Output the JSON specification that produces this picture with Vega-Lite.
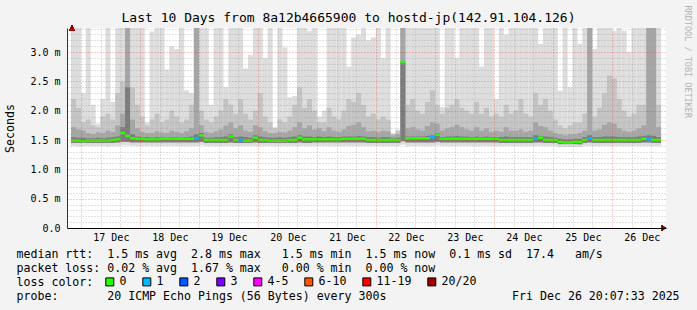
{
"$schema": "https://vega.github.io/schema/vega-lite/v6.json",
"width": 599, "height": 200,
"autosize": {"type": "none"},
"padding": {"left": 67, "top": 28, "right": 31, "bottom": 82},
"background": "#f3f3f3",
"config": {"view": {"stroke": null, "fill": "#ffffff"}, "font": "DejaVu Sans Mono"},
"title": {"text": "Last 10 Days from 8a12b4665900 to hostd-jp(142.91.104.126)", "fontSize": 13, "fontWeight": "normal", "color": "#000000", "anchor": "middle", "frame": "group", "dx": -18, "offset": -20},
"data": {"values": [
{"t":"2025-12-16T21:00","med":1.49,"loss":"0","mn":1.4,"lo":1.45,"dk":1.55,"hi":1.72,"up":2.2,"mx":3.5},
{"t":"2025-12-16T23:00","med":1.49,"loss":"0","mn":1.39,"lo":1.45,"dk":1.54,"hi":1.68,"up":2.05,"mx":3.5},
{"t":"2025-12-17T01:00","med":1.48,"loss":"0","mn":1.4,"lo":1.45,"dk":1.54,"hi":1.66,"up":1.8,"mx":2.3},
{"t":"2025-12-17T03:00","med":1.49,"loss":"0","mn":1.4,"lo":1.45,"dk":1.53,"hi":1.62,"up":1.85,"mx":3.5},
{"t":"2025-12-17T05:00","med":1.49,"loss":"0","mn":1.4,"lo":1.45,"dk":1.53,"hi":1.6,"up":1.75,"mx":2.1},
{"t":"2025-12-17T07:00","med":1.49,"loss":"0","mn":1.4,"lo":1.45,"dk":1.54,"hi":1.63,"up":1.72,"mx":1.78},
{"t":"2025-12-17T09:00","med":1.49,"loss":"0","mn":1.4,"lo":1.45,"dk":1.53,"hi":1.62,"up":1.9,"mx":2.2},
{"t":"2025-12-17T11:00","med":1.49,"loss":"0","mn":1.39,"lo":1.45,"dk":1.54,"hi":1.66,"up":1.95,"mx":3.5},
{"t":"2025-12-17T13:00","med":1.5,"loss":"0","mn":1.4,"lo":1.45,"dk":1.55,"hi":1.64,"up":1.85,"mx":2.15},
{"t":"2025-12-17T15:00","med":1.51,"loss":"0","mn":1.4,"lo":1.46,"dk":1.56,"hi":1.75,"up":2.3,"mx":3.5},
{"t":"2025-12-17T17:00","med":1.62,"loss":"0","mn":1.41,"lo":1.47,"dk":1.72,"hi":1.95,"up":2.5,"mx":3.5},
{"t":"2025-12-17T19:00","med":1.57,"loss":"0","mn":1.41,"lo":1.47,"dk":2.4,"hi":3.5,"up":3.5,"mx":3.5},
{"t":"2025-12-17T21:00","med":1.53,"loss":"0","mn":1.4,"lo":1.46,"dk":1.6,"hi":1.85,"up":2.4,"mx":3.5},
{"t":"2025-12-17T23:00","med":1.52,"loss":"0","mn":1.4,"lo":1.46,"dk":1.56,"hi":1.7,"up":2.1,"mx":3.5},
{"t":"2025-12-18T01:00","med":1.52,"loss":"0","mn":1.4,"lo":1.46,"dk":1.55,"hi":1.64,"up":1.9,"mx":3.5},
{"t":"2025-12-18T03:00","med":1.51,"loss":"0","mn":1.4,"lo":1.46,"dk":1.55,"hi":1.62,"up":1.75,"mx":1.8},
{"t":"2025-12-18T05:00","med":1.51,"loss":"0","mn":1.4,"lo":1.46,"dk":1.54,"hi":1.62,"up":1.85,"mx":3.35},
{"t":"2025-12-18T07:00","med":1.51,"loss":"0","mn":1.4,"lo":1.46,"dk":1.55,"hi":1.65,"up":1.95,"mx":3.5},
{"t":"2025-12-18T09:00","med":1.52,"loss":"0","mn":1.4,"lo":1.46,"dk":1.55,"hi":1.63,"up":1.8,"mx":3.5},
{"t":"2025-12-18T11:00","med":1.52,"loss":"0","mn":1.4,"lo":1.46,"dk":1.54,"hi":1.62,"up":1.85,"mx":2.7},
{"t":"2025-12-18T13:00","med":1.52,"loss":"0","mn":1.4,"lo":1.46,"dk":1.55,"hi":1.66,"up":2.0,"mx":3.1},
{"t":"2025-12-18T15:00","med":1.52,"loss":"0","mn":1.4,"lo":1.46,"dk":1.55,"hi":1.64,"up":1.9,"mx":3.05},
{"t":"2025-12-18T17:00","med":1.52,"loss":"0","mn":1.4,"lo":1.46,"dk":1.54,"hi":1.62,"up":1.8,"mx":3.5},
{"t":"2025-12-18T19:00","med":1.52,"loss":"0","mn":1.4,"lo":1.46,"dk":1.55,"hi":1.65,"up":1.85,"mx":2.35},
{"t":"2025-12-18T21:00","med":1.52,"loss":"0","mn":1.4,"lo":1.46,"dk":1.56,"hi":1.7,"up":2.1,"mx":2.3},
{"t":"2025-12-18T23:00","med":1.53,"loss":"1","mn":1.4,"lo":1.46,"dk":1.6,"hi":3.5,"up":3.5,"mx":3.5},
{"t":"2025-12-19T01:00","med":1.58,"loss":"0","mn":1.41,"lo":1.47,"dk":1.62,"hi":1.75,"up":2.0,"mx":3.5},
{"t":"2025-12-19T03:00","med":1.5,"loss":"0","mn":1.4,"lo":1.45,"dk":1.54,"hi":1.64,"up":1.85,"mx":3.5},
{"t":"2025-12-19T05:00","med":1.5,"loss":"0","mn":1.4,"lo":1.45,"dk":1.54,"hi":1.62,"up":1.8,"mx":2.1},
{"t":"2025-12-19T07:00","med":1.5,"loss":"0","mn":1.4,"lo":1.45,"dk":1.55,"hi":1.65,"up":1.9,"mx":3.5},
{"t":"2025-12-19T09:00","med":1.5,"loss":"0","mn":1.4,"lo":1.45,"dk":1.55,"hi":1.68,"up":2.0,"mx":3.5},
{"t":"2025-12-19T11:00","med":1.5,"loss":"0","mn":1.4,"lo":1.45,"dk":1.56,"hi":1.75,"up":2.2,"mx":2.4},
{"t":"2025-12-19T13:00","med":1.56,"loss":"0","mn":1.4,"lo":1.46,"dk":1.6,"hi":1.8,"up":2.1,"mx":3.5},
{"t":"2025-12-19T15:00","med":1.5,"loss":"0","mn":1.4,"lo":1.45,"dk":1.55,"hi":1.7,"up":1.95,"mx":3.5},
{"t":"2025-12-19T17:00","med":1.5,"loss":"1","mn":1.4,"lo":1.45,"dk":1.56,"hi":1.75,"up":2.2,"mx":3.5},
{"t":"2025-12-19T19:00","med":1.49,"loss":"0","mn":1.4,"lo":1.45,"dk":1.55,"hi":1.66,"up":1.95,"mx":2.72},
{"t":"2025-12-19T21:00","med":1.49,"loss":"0","mn":1.4,"lo":1.45,"dk":1.54,"hi":1.64,"up":1.85,"mx":2.95},
{"t":"2025-12-19T23:00","med":1.54,"loss":"0","mn":1.4,"lo":1.46,"dk":1.58,"hi":1.75,"up":2.0,"mx":3.5},
{"t":"2025-12-20T01:00","med":1.5,"loss":"0","mn":1.4,"lo":1.45,"dk":1.56,"hi":1.72,"up":2.3,"mx":3.5},
{"t":"2025-12-20T03:00","med":1.5,"loss":"0","mn":1.4,"lo":1.45,"dk":1.55,"hi":1.65,"up":1.9,"mx":2.9},
{"t":"2025-12-20T05:00","med":1.49,"loss":"0","mn":1.4,"lo":1.45,"dk":1.54,"hi":1.62,"up":1.8,"mx":3.5},
{"t":"2025-12-20T07:00","med":1.49,"loss":"0","mn":1.4,"lo":1.45,"dk":1.54,"hi":1.62,"up":1.7,"mx":1.72},
{"t":"2025-12-20T09:00","med":1.49,"loss":"0","mn":1.4,"lo":1.45,"dk":1.55,"hi":1.64,"up":1.85,"mx":3.5},
{"t":"2025-12-20T11:00","med":1.49,"loss":"0","mn":1.4,"lo":1.45,"dk":1.54,"hi":1.63,"up":1.8,"mx":3.08},
{"t":"2025-12-20T13:00","med":1.5,"loss":"0","mn":1.4,"lo":1.45,"dk":1.55,"hi":1.66,"up":1.9,"mx":2.23},
{"t":"2025-12-20T15:00","med":1.5,"loss":"0","mn":1.4,"lo":1.45,"dk":1.56,"hi":1.72,"up":2.1,"mx":2.25},
{"t":"2025-12-20T17:00","med":1.54,"loss":"0","mn":1.4,"lo":1.46,"dk":1.58,"hi":1.8,"up":2.4,"mx":3.5},
{"t":"2025-12-20T19:00","med":1.51,"loss":"0","mn":1.4,"lo":1.45,"dk":1.56,"hi":1.7,"up":2.05,"mx":3.5},
{"t":"2025-12-20T21:00","med":1.51,"loss":"0","mn":1.4,"lo":1.45,"dk":1.56,"hi":1.75,"up":2.2,"mx":3.36},
{"t":"2025-12-20T23:00","med":1.51,"loss":"0","mn":1.4,"lo":1.46,"dk":1.55,"hi":1.68,"up":2.0,"mx":3.5},
{"t":"2025-12-21T01:00","med":1.51,"loss":"0","mn":1.4,"lo":1.46,"dk":1.56,"hi":1.7,"up":1.8,"mx":1.9},
{"t":"2025-12-21T03:00","med":1.51,"loss":"0","mn":1.4,"lo":1.46,"dk":1.55,"hi":1.65,"up":1.8,"mx":2.0},
{"t":"2025-12-21T05:00","med":1.51,"loss":"0","mn":1.4,"lo":1.46,"dk":1.56,"hi":1.72,"up":2.05,"mx":3.5},
{"t":"2025-12-21T07:00","med":1.51,"loss":"0","mn":1.4,"lo":1.46,"dk":1.55,"hi":1.66,"up":1.9,"mx":3.5},
{"t":"2025-12-21T09:00","med":1.51,"loss":"0","mn":1.4,"lo":1.46,"dk":1.55,"hi":1.64,"up":1.85,"mx":3.5},
{"t":"2025-12-21T11:00","med":1.52,"loss":"0","mn":1.4,"lo":1.46,"dk":1.56,"hi":1.68,"up":2.0,"mx":3.5},
{"t":"2025-12-21T13:00","med":1.52,"loss":"0","mn":1.4,"lo":1.46,"dk":1.56,"hi":1.74,"up":2.2,"mx":2.75},
{"t":"2025-12-21T15:00","med":1.52,"loss":"0","mn":1.4,"lo":1.46,"dk":1.56,"hi":1.76,"up":2.15,"mx":3.25},
{"t":"2025-12-21T17:00","med":1.52,"loss":"0","mn":1.4,"lo":1.46,"dk":1.57,"hi":1.8,"up":2.3,"mx":3.3},
{"t":"2025-12-21T19:00","med":1.52,"loss":"0","mn":1.4,"lo":1.46,"dk":1.56,"hi":1.72,"up":2.1,"mx":3.5},
{"t":"2025-12-21T21:00","med":1.5,"loss":"0","mn":1.4,"lo":1.45,"dk":1.55,"hi":1.65,"up":1.9,"mx":3.2},
{"t":"2025-12-21T23:00","med":1.5,"loss":"0","mn":1.4,"lo":1.45,"dk":1.55,"hi":1.66,"up":1.95,"mx":3.25},
{"t":"2025-12-22T01:00","med":1.5,"loss":"0","mn":1.4,"lo":1.45,"dk":1.54,"hi":1.64,"up":1.85,"mx":3.5},
{"t":"2025-12-22T03:00","med":1.5,"loss":"0","mn":1.4,"lo":1.45,"dk":1.55,"hi":1.66,"up":1.9,"mx":2.9},
{"t":"2025-12-22T05:00","med":1.5,"loss":"0","mn":1.4,"lo":1.45,"dk":1.55,"hi":1.65,"up":1.85,"mx":3.5},
{"t":"2025-12-22T07:00","med":1.5,"loss":"0","mn":1.4,"lo":1.45,"dk":1.53,"hi":1.58,"up":1.6,"mx":1.62},
{"t":"2025-12-22T09:00","med":1.5,"loss":"0","mn":1.4,"lo":1.45,"dk":1.54,"hi":1.6,"up":1.65,"mx":1.68},
{"t":"2025-12-22T11:00","med":2.83,"loss":"0","mn":1.42,"lo":1.48,"dk":2.83,"hi":3.5,"up":3.5,"mx":3.5},
{"t":"2025-12-22T13:00","med":1.53,"loss":"0","mn":1.4,"lo":1.46,"dk":1.56,"hi":1.7,"up":2.1,"mx":3.5},
{"t":"2025-12-22T15:00","med":1.53,"loss":"0","mn":1.4,"lo":1.46,"dk":1.56,"hi":1.72,"up":2.2,"mx":3.5},
{"t":"2025-12-22T17:00","med":1.53,"loss":"0","mn":1.4,"lo":1.46,"dk":1.56,"hi":1.68,"up":2.0,"mx":3.5},
{"t":"2025-12-22T19:00","med":1.53,"loss":"0","mn":1.4,"lo":1.46,"dk":1.56,"hi":1.66,"up":1.95,"mx":3.5},
{"t":"2025-12-22T21:00","med":1.53,"loss":"0","mn":1.4,"lo":1.46,"dk":1.57,"hi":1.74,"up":2.15,"mx":3.5},
{"t":"2025-12-22T23:00","med":1.55,"loss":"1","mn":1.4,"lo":1.46,"dk":1.58,"hi":1.8,"up":2.35,"mx":3.5},
{"t":"2025-12-23T01:00","med":1.59,"loss":"0","mn":1.41,"lo":1.47,"dk":1.62,"hi":1.78,"up":2.1,"mx":3.5},
{"t":"2025-12-23T03:00","med":1.52,"loss":"0","mn":1.4,"lo":1.46,"dk":1.55,"hi":1.66,"up":1.95,"mx":2.06},
{"t":"2025-12-23T05:00","med":1.52,"loss":"0","mn":1.4,"lo":1.46,"dk":1.56,"hi":1.7,"up":2.05,"mx":3.5},
{"t":"2025-12-23T07:00","med":1.52,"loss":"0","mn":1.4,"lo":1.46,"dk":1.56,"hi":1.72,"up":2.1,"mx":3.5},
{"t":"2025-12-23T09:00","med":1.52,"loss":"0","mn":1.4,"lo":1.46,"dk":1.57,"hi":1.76,"up":2.2,"mx":2.9},
{"t":"2025-12-23T11:00","med":1.52,"loss":"0","mn":1.4,"lo":1.46,"dk":1.56,"hi":1.72,"up":2.05,"mx":3.5},
{"t":"2025-12-23T13:00","med":1.52,"loss":"0","mn":1.4,"lo":1.46,"dk":1.56,"hi":1.68,"up":2.0,"mx":3.5},
{"t":"2025-12-23T15:00","med":1.52,"loss":"0","mn":1.4,"lo":1.46,"dk":1.55,"hi":1.66,"up":1.95,"mx":3.5},
{"t":"2025-12-23T17:00","med":1.52,"loss":"0","mn":1.4,"lo":1.46,"dk":1.56,"hi":1.72,"up":2.15,"mx":3.5},
{"t":"2025-12-23T19:00","med":1.52,"loss":"0","mn":1.4,"lo":1.46,"dk":1.55,"hi":1.66,"up":1.95,"mx":2.75},
{"t":"2025-12-23T21:00","med":1.52,"loss":"0","mn":1.4,"lo":1.46,"dk":1.56,"hi":1.7,"up":2.05,"mx":3.5},
{"t":"2025-12-23T23:00","med":1.52,"loss":"0","mn":1.4,"lo":1.46,"dk":1.55,"hi":1.64,"up":1.9,"mx":3.5},
{"t":"2025-12-24T01:00","med":1.52,"loss":"0","mn":1.4,"lo":1.46,"dk":1.55,"hi":1.66,"up":1.95,"mx":2.2},
{"t":"2025-12-24T03:00","med":1.5,"loss":"0","mn":1.4,"lo":1.45,"dk":1.55,"hi":1.64,"up":1.9,"mx":3.5},
{"t":"2025-12-24T05:00","med":1.5,"loss":"0","mn":1.4,"lo":1.45,"dk":1.56,"hi":1.72,"up":2.1,"mx":3.3},
{"t":"2025-12-24T07:00","med":1.5,"loss":"0","mn":1.4,"lo":1.45,"dk":1.55,"hi":1.66,"up":1.95,"mx":3.5},
{"t":"2025-12-24T09:00","med":1.5,"loss":"0","mn":1.4,"lo":1.45,"dk":1.55,"hi":1.66,"up":2.0,"mx":3.5},
{"t":"2025-12-24T11:00","med":1.5,"loss":"0","mn":1.4,"lo":1.45,"dk":1.55,"hi":1.68,"up":2.2,"mx":3.5},
{"t":"2025-12-24T13:00","med":1.5,"loss":"0","mn":1.4,"lo":1.45,"dk":1.55,"hi":1.64,"up":1.95,"mx":3.5},
{"t":"2025-12-24T15:00","med":1.5,"loss":"0","mn":1.4,"lo":1.45,"dk":1.55,"hi":1.66,"up":1.9,"mx":3.5},
{"t":"2025-12-24T17:00","med":1.52,"loss":"1","mn":1.4,"lo":1.46,"dk":1.58,"hi":1.8,"up":2.3,"mx":3.5},
{"t":"2025-12-24T19:00","med":1.54,"loss":"0","mn":1.4,"lo":1.46,"dk":1.57,"hi":1.74,"up":2.1,"mx":3.14},
{"t":"2025-12-24T21:00","med":1.5,"loss":"0","mn":1.4,"lo":1.45,"dk":1.56,"hi":1.72,"up":2.2,"mx":3.5},
{"t":"2025-12-24T23:00","med":1.5,"loss":"0","mn":1.4,"lo":1.45,"dk":1.55,"hi":1.66,"up":2.0,"mx":3.5},
{"t":"2025-12-25T01:00","med":1.5,"loss":"0","mn":1.4,"lo":1.45,"dk":1.54,"hi":1.62,"up":1.85,"mx":3.5},
{"t":"2025-12-25T03:00","med":1.47,"loss":"0","mn":1.38,"lo":1.43,"dk":1.52,"hi":1.6,"up":1.75,"mx":2.34},
{"t":"2025-12-25T05:00","med":1.46,"loss":"0","mn":1.38,"lo":1.43,"dk":1.51,"hi":1.58,"up":1.7,"mx":3.5},
{"t":"2025-12-25T07:00","med":1.46,"loss":"0","mn":1.38,"lo":1.43,"dk":1.51,"hi":1.6,"up":1.75,"mx":2.4},
{"t":"2025-12-25T09:00","med":1.47,"loss":"0","mn":1.38,"lo":1.43,"dk":1.52,"hi":1.6,"up":1.8,"mx":3.5},
{"t":"2025-12-25T11:00","med":1.47,"loss":"0","mn":1.38,"lo":1.43,"dk":1.52,"hi":1.62,"up":1.8,"mx":3.14},
{"t":"2025-12-25T13:00","med":1.5,"loss":"0","mn":1.4,"lo":1.45,"dk":1.55,"hi":1.66,"up":1.95,"mx":3.5},
{"t":"2025-12-25T15:00","med":1.53,"loss":"1","mn":1.4,"lo":1.46,"dk":1.58,"hi":3.5,"up":3.5,"mx":3.5},
{"t":"2025-12-25T17:00","med":1.5,"loss":"0","mn":1.4,"lo":1.45,"dk":1.55,"hi":1.66,"up":1.9,"mx":3.05},
{"t":"2025-12-25T19:00","med":1.5,"loss":"0","mn":1.4,"lo":1.45,"dk":1.55,"hi":1.68,"up":2.05,"mx":3.5},
{"t":"2025-12-25T21:00","med":1.5,"loss":"0","mn":1.4,"lo":1.45,"dk":1.56,"hi":1.76,"up":2.3,"mx":3.5},
{"t":"2025-12-25T23:00","med":1.5,"loss":"0","mn":1.4,"lo":1.45,"dk":1.56,"hi":1.8,"up":2.6,"mx":3.5},
{"t":"2025-12-26T01:00","med":1.5,"loss":"0","mn":1.4,"lo":1.45,"dk":1.56,"hi":1.78,"up":2.55,"mx":3.36},
{"t":"2025-12-26T03:00","med":1.5,"loss":"0","mn":1.4,"lo":1.45,"dk":1.55,"hi":1.7,"up":2.2,"mx":3.5},
{"t":"2025-12-26T05:00","med":1.5,"loss":"0","mn":1.4,"lo":1.45,"dk":1.55,"hi":1.66,"up":2.0,"mx":3.36},
{"t":"2025-12-26T07:00","med":1.5,"loss":"0","mn":1.4,"lo":1.45,"dk":1.55,"hi":1.64,"up":1.9,"mx":3.0},
{"t":"2025-12-26T09:00","med":1.5,"loss":"0","mn":1.4,"lo":1.45,"dk":1.55,"hi":1.66,"up":1.95,"mx":3.5},
{"t":"2025-12-26T11:00","med":1.5,"loss":"0","mn":1.4,"lo":1.45,"dk":1.56,"hi":1.7,"up":2.1,"mx":3.5},
{"t":"2025-12-26T13:00","med":1.52,"loss":"0","mn":1.4,"lo":1.46,"dk":1.57,"hi":1.75,"up":2.1,"mx":3.5},
{"t":"2025-12-26T15:00","med":1.51,"loss":"1","mn":1.4,"lo":1.46,"dk":1.58,"hi":3.5,"up":3.5,"mx":3.5},
{"t":"2025-12-26T17:00","med":1.5,"loss":"0","mn":1.4,"lo":1.45,"dk":1.57,"hi":3.5,"up":3.5,"mx":3.5},
{"t":"2025-12-26T19:00","med":1.5,"loss":"0","mn":1.4,"lo":1.45,"dk":1.55,"hi":1.72,"up":2.1,"mx":3.5}
]},
"encoding": {
"x": {"field": "t", "type": "temporal",
"scale": {"domain": [{"year": 2025, "month": 12, "date": 16, "hours": 20, "minutes": 24}, {"year": 2025, "month": 12, "date": 26, "hours": 20}]},
"axis": {"values": [
{"year":2025,"month":12,"date":17,"hours":0},{"year":2025,"month":12,"date":17,"hours":8},{"year":2025,"month":12,"date":17,"hours":16},
{"year":2025,"month":12,"date":18,"hours":0},{"year":2025,"month":12,"date":18,"hours":8},{"year":2025,"month":12,"date":18,"hours":16},
{"year":2025,"month":12,"date":19,"hours":0},{"year":2025,"month":12,"date":19,"hours":8},{"year":2025,"month":12,"date":19,"hours":16},
{"year":2025,"month":12,"date":20,"hours":0},{"year":2025,"month":12,"date":20,"hours":8},{"year":2025,"month":12,"date":20,"hours":16},
{"year":2025,"month":12,"date":21,"hours":0},{"year":2025,"month":12,"date":21,"hours":8},{"year":2025,"month":12,"date":21,"hours":16},
{"year":2025,"month":12,"date":22,"hours":0},{"year":2025,"month":12,"date":22,"hours":8},{"year":2025,"month":12,"date":22,"hours":16},
{"year":2025,"month":12,"date":23,"hours":0},{"year":2025,"month":12,"date":23,"hours":8},{"year":2025,"month":12,"date":23,"hours":16},
{"year":2025,"month":12,"date":24,"hours":0},{"year":2025,"month":12,"date":24,"hours":8},{"year":2025,"month":12,"date":24,"hours":16},
{"year":2025,"month":12,"date":25,"hours":0},{"year":2025,"month":12,"date":25,"hours":8},{"year":2025,"month":12,"date":25,"hours":16},
{"year":2025,"month":12,"date":26,"hours":0},{"year":2025,"month":12,"date":26,"hours":8},{"year":2025,"month":12,"date":26,"hours":16}],
"labelExpr": "hours(datum.value) == 0 ? timeFormat(datum.value, '%d %b') : ''", "labelOffset": 30, "labelFontSize": 10, "labelColor": "#000000", "labelPadding": 4, "labelFlush": false, "labelOverlap": false, "ticks": false, "domain": true, "domainColor": "#000000", "grid": true,
"gridColor": {"condition": {"test": "hours(datum.value) == 0", "value": "#ff0000"}, "value": "#999999"},
"gridOpacity": {"condition": {"test": "hours(datum.value) == 0", "value": 0.4}, "value": 0.6},
"gridDash": [1, 2], "zindex": 1,
"title": ["median rtt:\u00a0\u00a01.5 ms avg\u00a0\u00a02.8 ms max\u00a0\u00a0\u00a01.5 ms min\u00a0\u00a01.5 ms now\u00a0\u00a00.1 ms sd\u00a0\u00a017.4\u00a0\u00a0\u00a0am/s", "packet loss: 0.02 % avg\u00a0\u00a01.67 % max\u00a0\u00a0\u00a00.00 % min\u00a0\u00a00.00 % now", "loss color:", "probe:\u00a0\u00a0\u00a0\u00a0\u00a0\u00a0\u00a020 ICMP Echo Pings (56 Bytes) every 300s\u00a0\u00a0\u00a0\u00a0\u00a0\u00a0\u00a0\u00a0\u00a0\u00a0\u00a0\u00a0\u00a0\u00a0\u00a0\u00a0\u00a0\u00a0Fri Dec 26 20:07:33 2025"],
"titleFontSize": 11.6, "titleFontWeight": "normal", "titleColor": "#000000", "titleAnchor": "start", "titleAlign": "left", "titleBaseline": "top", "titleX": -51, "titleY": 20, "titleLineHeight": 14}}
},
"layer": [
{
"mark": {"type": "bar", "width": 5, "color": "#dddddd"},
"encoding": {
"y": {"field": "mn", "type": "quantitative", "scale": {"domain": [0, 3.41], "nice": false, "zero": false, "clamp": true},
"axis": {"orient": "left", "values": [0.1,0.2,0.3,0.4,0.6,0.7,0.8,0.9,1.1,1.2,1.3,1.4,1.6,1.7,1.8,1.9,2.1,2.2,2.3,2.4,2.6,2.7,2.8,2.9,3.1,3.2,3.3,3.4],
"labels": false, "ticks": false, "domain": false, "grid": true, "gridColor": "#999999", "gridOpacity": 0.6, "gridDash": [1, 2], "zindex": 1, "title": null}},
"y2": {"field": "mx"}
}
},
{
"mark": {"type": "bar", "width": 5, "color": "#c4c4c4"},
"encoding": {
"y": {"field": "lo", "type": "quantitative",
"axis": {"orient": "left", "values": [0, 0.5, 1, 1.5, 2, 2.5, 3],
"labelExpr": "datum.value == 0 ? '0.0' : format(datum.value, '.1f') + ' m'",
"labelFontSize": 10, "labelColor": "#000000", "labelPadding": 7, "ticks": false, "domain": true, "domainColor": "#333333", "grid": true, "gridColor": "#ff0000", "gridOpacity": 0.4, "gridDash": [1, 2], "zindex": 1,
"title": "Seconds", "titleFontSize": 11.6, "titleFontWeight": "normal", "titleColor": "#000000", "titlePadding": 14}},
"y2": {"field": "up"}
}
},
{
"mark": {"type": "bar", "width": 5, "color": "#a6a6a6"},
"encoding": {
"y": {"field": "lo", "type": "quantitative",
"axis": {"orient": "right", "labels": false, "ticks": false, "domain": false, "grid": false, "title": "RRDTOOL / TOBI OETIKER", "titleAngle": 90, "titleX": 21, "titleY": -23, "titleAlign": "left", "titleBaseline": "middle", "titleFontSize": 8.5, "titleFontWeight": "normal", "titleColor": "#b4b4b4"}},
"y2": {"field": "hi"}
}
},
{
"mark": {"type": "bar", "width": 5, "color": "#7c7c7c"},
"encoding": {"y": {"field": "lo", "type": "quantitative", "axis": null}, "y2": {"field": "dk"}}
},
{
"mark": {"type": "tick", "orient": "horizontal", "size": 5, "thickness": 2.5, "opacity": 1},
"encoding": {
"y": {"field": "med", "type": "quantitative", "axis": null},
"color": {"field": "loss", "type": "nominal",
"scale": {"domain": ["0", "1", "2", "3", "4-5", "6-10", "11-19", "20/20"], "range": ["#26ff00", "#00b8ff", "#0059ff", "#7e00ff", "#ff00ff", "#ff5500", "#ff0000", "#a10000"]},
"legend": {"orient": "none", "legendX": 37, "legendY": 248, "direction": "horizontal", "title": null, "padding": 0, "symbolType": "square", "symbolSize": 64, "symbolStrokeColor": "#000000", "symbolStrokeWidth": 1, "symbolOpacity": 1, "labelFont": "DejaVu Sans Mono", "labelFontSize": 11.6, "labelColor": "#000000", "labelOffset": 4, "columnPadding": 13}}
}
},
{
"mark": {"type": "point", "shape": "triangle-right", "filled": true, "size": 30, "color": "#990000", "opacity": 1},
"encoding": {
"x": {"datum": {"year": 2025, "month": 12, "date": 26, "hours": 21}, "type": "temporal"},
"y": {"datum": 0, "type": "quantitative", "axis": null}
}
},
{
"mark": {"type": "point", "shape": "triangle-up", "filled": true, "size": 30, "color": "#990000", "opacity": 1},
"encoding": {
"x": {"datum": {"year": 2025, "month": 12, "date": 16, "hours": 20, "minutes": 24}, "type": "temporal"},
"y": {"datum": 3.41, "type": "quantitative", "axis": null}
}
}
],
"resolve": {"axis": {"y": "independent"}}
}
